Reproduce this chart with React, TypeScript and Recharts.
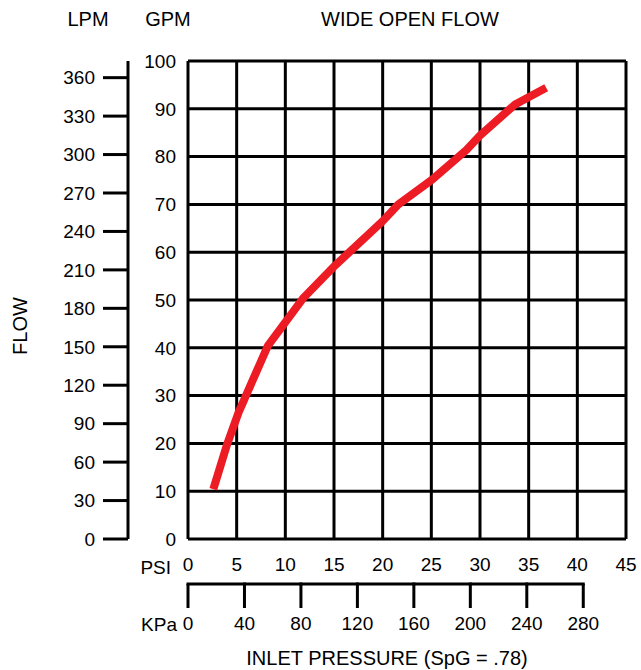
import { LineChart, Line, XAxis, YAxis, CartesianGrid, Label } from 'recharts'

// flow curve (inlet PSI vs GPM)
const psiValues = [2.6, 4.0, 5.2, 8.2, 11.8, 15.1, 20.0, 21.6, 25.1, 28.6, 30.0, 33.6, 36.8]
const gpmValues = [10.4, 19.7, 26.5, 40.4, 50.3, 57.2, 66.5, 70, 75.2, 81.4, 84.4, 90.9, 94.4]

const psiTicks = [0, 5, 10, 15, 20, 25, 30, 35, 40, 45]
const gpmTicks = [0, 10, 20, 30, 40, 50, 60, 70, 80, 90, 100]
const lpmTicks = [0, 30, 60, 90, 120, 150, 180, 210, 240, 270, 300, 330, 360]
const kpaTicks = [0, 40, 80, 120, 160, 200, 240, 280]

const KPA_PER_PSI = 6.895

const flowData = psiValues.map((psi, i) => ({ psi, kpa: psi * KPA_PER_PSI, gpm: gpmValues[i] }))

// axis ids: 1 sits next to the plot, 2 outside it
const PSI_AXIS = 1
const KPA_AXIS = 2
const GPM_AXIS = 1
const LPM_AXIS = 2

const CHART_W = 641
const CHART_H = 670
const MARGIN = { top: 61, right: 15, bottom: 1, left: 48 }
const LPM_W = 80
const GPM_W = 60
const PSI_H = 45
const KPA_H = 85
const PLOT_W = CHART_W - MARGIN.left - MARGIN.right - LPM_W - GPM_W

const KPA_MAX = 45 * KPA_PER_PSI
const KPA_TICK = 24
const KPA_MARGIN = 9
const KPA_STEP = (PLOT_W * 40) / KPA_MAX

const FONT = '"Liberation Sans", Arial, sans-serif'
const tickStyle = { fill: '#000', fontSize: 19 }

// kPa ticks also draw the piece of axis line up to the next tick,
// so the line stops at 280 like in the original
const KpaTick = (props: any) => {
  const { x, y, payload, index } = props
  const lineY = y - KPA_TICK - KPA_MARGIN
  return (
    <g>
      {index < kpaTicks.length - 1 && (
        <line x1={x - 1.5} x2={x + KPA_STEP + 1.5} y1={lineY} y2={lineY} stroke="#000" strokeWidth={3} />
      )}
      <text x={x} y={y} dy="0.71em" textAnchor="middle" fill="#000" fontSize={19}>
        {payload.value}
      </text>
    </g>
  )
}

// the first PSI tick also carries the "PSI" caption to its left
const PsiTick = (props: any) => {
  const { x, y, payload, index } = props
  return (
    <g>
      {index === 0 && (
        <text x={x - 17} y={y} dy="0.85em" textAnchor="end" fill="#000" fontSize={19}>
          PSI
        </text>
      )}
      <text x={x} y={y} dy="0.71em" textAnchor="middle" fill="#000" fontSize={19}>
        {String(payload.value)}
      </text>
    </g>
  )
}

const FlowLabel = ({ viewBox }: any) => {
  const cx = viewBox.x - 28
  const cy = viewBox.y + viewBox.height / 2 + 26
  return (
    <text
      x={cx}
      y={cy}
      transform={`rotate(-90, ${cx}, ${cy})`}
      textAnchor="middle"
      dominantBaseline="central"
      fill="#000"
      fontSize={20}
    >
      FLOW
    </text>
  )
}

export default function App() {
  return (
    <div style={{ position: 'absolute', left: 0, top: 0, fontFamily: FONT, background: '#fff' }}>
      <LineChart width={CHART_W} height={CHART_H} data={flowData} margin={MARGIN}>
        <text x={410} y={26} textAnchor="middle" fill="#000" fontSize={20}>
          WIDE OPEN FLOW
        </text>
        <CartesianGrid xAxisId={PSI_AXIS} yAxisId={GPM_AXIS} stroke="#000" strokeWidth={3} fill="none" />
        <XAxis
          xAxisId={PSI_AXIS}
          type="number"
          dataKey="psi"
          domain={[0, 45]}
          allowDataOverflow
          ticks={psiTicks}
          interval={0}
          height={PSI_H}
          axisLine={false}
          tickLine={false}
          tickSize={0}
          tickMargin={19}
          tick={<PsiTick />}
        />
        <XAxis
          xAxisId={KPA_AXIS}
          type="number"
          dataKey="kpa"
          domain={[0, KPA_MAX]}
          allowDataOverflow
          ticks={kpaTicks}
          interval={0}
          height={KPA_H}
          axisLine={false}
          tickLine={{ stroke: '#000', strokeWidth: 3 }}
          tickSize={KPA_TICK}
          tickMargin={KPA_MARGIN}
          tick={<KpaTick />}
        >
          <Label value="KPa" position="left" offset={11} dy={-2} fill="#000" fontSize={19} />
          <Label value="INLET PRESSURE (SpG = .78)" position="insideBottom" offset={4} dx={-20} fill="#000" fontSize={20} />
        </XAxis>
        <YAxis
          yAxisId={GPM_AXIS}
          type="number"
          domain={[0, 100]}
          allowDataOverflow
          ticks={gpmTicks}
          interval={0}
          width={GPM_W}
          axisLine={false}
          tickLine={false}
          tickSize={0}
          tickMargin={12}
          tick={tickStyle}
        >
          <Label value="GPM" position="top" offset={35} dx={10} fill="#000" fontSize={20} />
        </YAxis>
        <YAxis
          yAxisId={LPM_AXIS}
          type="number"
          domain={[0, 373]}
          allowDataOverflow
          ticks={lpmTicks}
          interval={0}
          width={LPM_W}
          axisLine={{ stroke: '#000', strokeWidth: 3 }}
          tickLine={{ stroke: '#000', strokeWidth: 3 }}
          tickSize={25}
          tickMargin={8}
          tick={tickStyle}
        >
          <Label value="LPM" position="top" offset={35} fill="#000" fontSize={20} />
          <Label content={<FlowLabel />} />
        </YAxis>
        <Line
          xAxisId={PSI_AXIS}
          yAxisId={GPM_AXIS}
          type="linear"
          dataKey="gpm"
          stroke="#ed1c24"
          strokeWidth={8}
          strokeLinecap="butt"
          strokeLinejoin="round"
          dot={false}
          activeDot={false}
          isAnimationActive={false}
        />
      </LineChart>
    </div>
  )
}
